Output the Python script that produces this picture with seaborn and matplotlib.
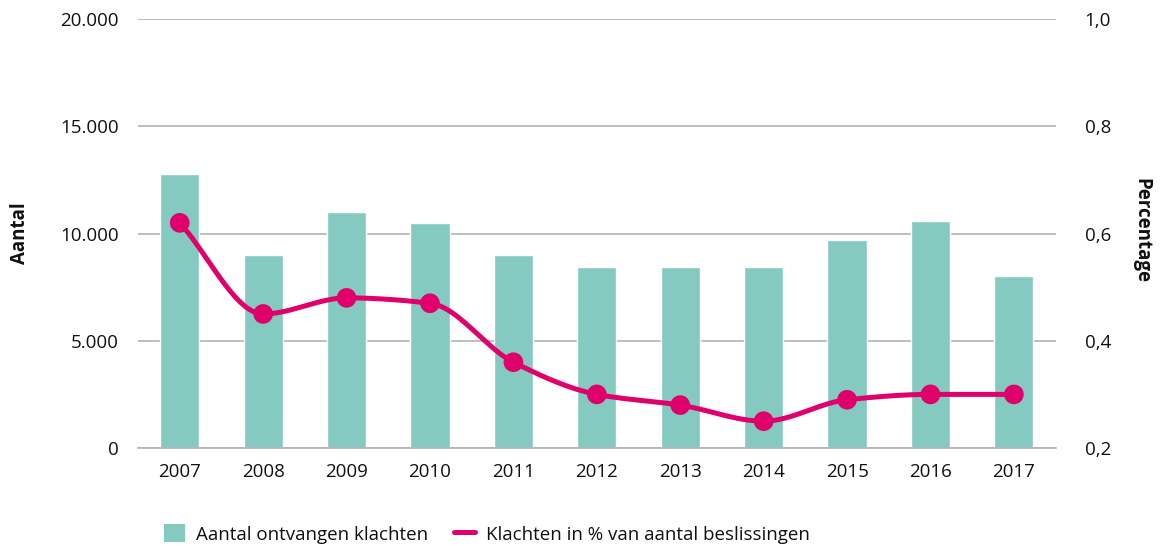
import matplotlib
matplotlib.use("Agg")
import matplotlib.pyplot as plt
import matplotlib.ticker as mticker
from matplotlib.lines import Line2D
from matplotlib.patches import Patch
import seaborn as sns
import numpy as np
import pandas as pd

years = ["2007", "2008", "2009", "2010", "2011", "2012",
         "2013", "2014", "2015", "2016", "2017"]
klachten = [12800, 9000, 11000, 10500, 9000, 8450, 8450, 8450, 9700, 10600, 8000]
percentage = [0.62, 0.45, 0.48, 0.47, 0.36, 0.30, 0.28, 0.25, 0.29, 0.30, 0.30]

bar_color = "#85CAC0"
line_color = "#E0006C"
grid_color = "#B3B3B3"
text_color = "#111111"

sns.set_style("white")
plt.rcParams["font.family"] = ["Open Sans", "DejaVu Sans"]
plt.rcParams["text.color"] = text_color
plt.rcParams["xtick.color"] = text_color
plt.rcParams["ytick.color"] = text_color


def pchip(x, y, xs):
    # monotone cubic interpolation (Fritsch-Carlson) for the smooth line
    x = np.asarray(x, float)
    y = np.asarray(y, float)
    h = np.diff(x)
    d = np.diff(y) / h
    m = np.zeros_like(y)
    for i in range(1, len(y) - 1):
        if d[i - 1] * d[i] > 0:
            w1 = 2 * h[i] + h[i - 1]
            w2 = h[i] + 2 * h[i - 1]
            m[i] = (w1 + w2) / (w1 / d[i - 1] + w2 / d[i])
    m[0] = d[0]
    m[-1] = d[-1]
    idx = np.clip(np.searchsorted(x, xs) - 1, 0, len(x) - 2)
    t = (xs - x[idx]) / h[idx]
    h00 = 2 * t**3 - 3 * t**2 + 1
    h10 = t**3 - 2 * t**2 + t
    h01 = -2 * t**3 + 3 * t**2
    h11 = t**3 - t**2
    return (h00 * y[idx] + h10 * h[idx] * m[idx]
            + h01 * y[idx + 1] + h11 * h[idx] * m[idx + 1])


df = pd.DataFrame({"jaar": years, "aantal": klachten, "pct": percentage})

fig = plt.figure(figsize=(11.6, 5.46), dpi=100)
ax = fig.add_axes([0.119, 0.1795, 0.791, 0.7855])

sns.barplot(data=df, x="jaar", y="aantal", color=bar_color, width=0.47,
            saturation=1, ax=ax, zorder=2)
ax.set_xlim(-0.5, len(years) - 0.5)
ax.set_ylim(0, 20000)
ax.yaxis.set_major_locator(mticker.MultipleLocator(5000))
ax.yaxis.set_major_formatter(
    mticker.FuncFormatter(lambda v, p: f"{int(v):,}".replace(",", ".")))
ax.grid(axis="y", color=grid_color, linewidth=1.2, zorder=0)
ax.set_axisbelow(True)

# x axis: ticks between categories
ax.set_xticks(np.arange(len(years)))
ax.set_xticklabels(years)
ax.set_xticks(np.arange(len(years) + 1) - 0.5, minor=True)
ax.tick_params(axis="x", which="major", length=0, pad=11, labelsize=13.5)
ax.tick_params(axis="x", which="minor", length=10, width=1.2, color=grid_color)
ax.tick_params(axis="y", length=0, pad=14, labelsize=13.5)
for s in ["top", "left", "right"]:
    ax.spines[s].set_visible(False)
ax.spines["bottom"].set_color(grid_color)
ax.spines["bottom"].set_linewidth(1.2)
ax.set_xlabel("")
ax.set_ylabel("")

ax2 = ax.twinx()
xs = np.linspace(0, len(years) - 1, 400)
ax2.plot(xs, pchip(np.arange(len(years)), percentage, xs),
         color=line_color, linewidth=3.6, solid_capstyle="round", zorder=3)
sns.scatterplot(x=np.arange(len(years)), y=percentage, color=line_color,
                s=200, edgecolor="none", ax=ax2, zorder=4)
ax2.set_ylim(0.2, 1.0)
ax2.yaxis.set_major_locator(mticker.MultipleLocator(0.2))
ax2.yaxis.set_major_formatter(
    mticker.FuncFormatter(lambda v, p: f"{v:.1f}".replace(".", ",")))
ax2.tick_params(axis="y", length=0, pad=21, labelsize=13.5)
for s in ["top", "left", "right", "bottom"]:
    ax2.spines[s].set_visible(False)
ax2.set_ylabel("")

fig.text(20 / 1160, 1 - 233 / 546, "Aantal", rotation=90, fontsize=13.5,
         fontweight="bold", ha="center", va="center")
fig.text(1141 / 1160, 1 - 230 / 546, "Percentage", rotation=270, fontsize=13.5,
         fontweight="bold", ha="center", va="center")

handles = [Patch(facecolor=bar_color, edgecolor="none"),
           Line2D([0], [0], color=line_color, linewidth=3.6)]
fig.legend(handles, ["Aantal ontvangen klachten",
                     "Klachten in % van aantal beslissingen"],
           loc="center left", bbox_to_anchor=(0.127, 0.022), ncol=2,
           frameon=False, fontsize=13.5, handlelength=1.1, handleheight=1.1,
           columnspacing=1.4, handletextpad=0.6)

fig.savefig("out.png", dpi=100)
